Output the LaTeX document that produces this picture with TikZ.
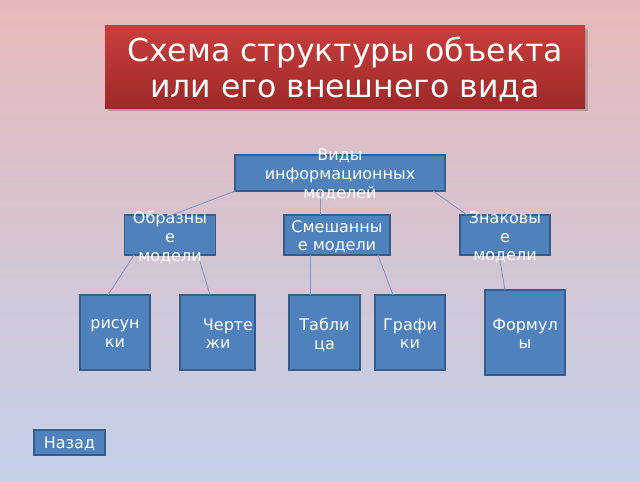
\documentclass[tikz,border=0pt]{standalone}
\usepackage{fontspec}
\setmainfont{DejaVu Sans}
\usetikzlibrary{calc}
\definecolor{bgtop}{RGB}{231,184,185}
\definecolor{bgbot}{RGB}{195,209,234}
\definecolor{ttop}{RGB}{201,62,60}
\definecolor{tbot}{RGB}{156,42,40}
\definecolor{boxfill}{RGB}{79,129,189}
\definecolor{boxline}{RGB}{56,93,138}
\definecolor{connc}{RGB}{122,150,196}
\tikzset{
  box/.style={draw=boxline, fill=boxfill, line width=1.2pt, inner sep=0pt, outer sep=0pt, rectangle},
  boxtext/.style={text=white, align=center, inner sep=0pt, font=\fontsize{16}{18.7}\selectfont,
    execute at begin node=\strut, execute at end node=\strut},
  conn/.style={draw=connc, line width=0.8pt},
}
\begin{document}
\begin{tikzpicture}[x=1pt,y=-1pt]
\useasboundingbox (0,0) rectangle (640,480);
\shade[top color=bgtop, bottom color=bgbot] (0,0) rectangle (640,480);
% title
\fill[black, opacity=0.18] (108,29) rectangle (588,111);
\node[rectangle, inner sep=0pt, outer sep=0pt, minimum width=480pt, minimum height=83pt, top color=ttop, bottom color=tbot] (title) at (345,66.5) {};
\node[text=white, align=center, inner sep=0pt, font=\fontsize{31.5}{36}\selectfont] (titleT) at ([yshift=-3pt]title.center) {Схема структуры объекта\\или его внешнего вида};
% boxes
\node[box, minimum width=210pt, minimum height=36pt] (root) at (340,173) {};
\node[box, minimum width=91pt, minimum height=40pt] (obr) at (170,235) {};
\node[box, minimum width=106pt, minimum height=40pt] (mix) at (337,235) {};
\node[box, minimum width=90pt, minimum height=40pt] (zn) at (505,235) {};
\node[box, minimum width=70pt, minimum height=75pt] (ris) at (115,332.5) {};
\node[box, minimum width=75pt, minimum height=75pt] (cher) at (217.5,332.5) {};
\node[box, minimum width=71pt, minimum height=75pt] (tab) at (324.5,332.5) {};
\node[box, minimum width=70pt, minimum height=75pt] (graf) at (410,332.5) {};
\node[box, minimum width=80pt, minimum height=85pt] (form) at (525,332.5) {};
\node[box, minimum width=71pt, minimum height=25pt] (back) at (69.5,442.5) {};
% connectors
\draw[conn] (root.south west) -- ([xshift=2pt]obr.north);
\draw[conn] ([xshift=-20pt]root.south) -- ([xshift=-17pt]mix.north);
\draw[conn] ([xshift=-12pt]root.south east) -- ([xshift=-38pt]zn.north);
\draw[conn] ([xshift=-36pt]obr.south) -- ([xshift=-7pt]ris.north);
\draw[conn] ([xshift=28pt]obr.south) -- ([xshift=-7.5pt]cher.north);
\draw[conn] ([xshift=-27pt]mix.south) -- ([xshift=-14.5pt]tab.north);
\draw[conn] ([xshift=41pt]mix.south) -- ([xshift=-17pt]graf.north);
\draw[conn] ([xshift=-6pt]zn.south) -- ([xshift=-20pt]form.north);
% texts
\node[boxtext] (rootT) at ([yshift=-3.5pt]root.center) {Виды\\информационных\\моделей};
\node[boxtext] (obrT) at ([yshift=-4pt]obr.center) {Образны\\е\\модели};
\node[boxtext] (mixT) at ([yshift=-3.5pt]mix.center) {Смешанны\\е модели};
\node[boxtext] (znT) at ([yshift=-4pt]zn.center) {Знаковы\\е\\модели};
\node[boxtext] (risT) at ([yshift=-4pt]ris.center) {рисун\\ки};
\node[boxtext] (cherT) at ([xshift=10.5pt,yshift=-4pt]cher.center) {Черте\\жи\hspace*{20pt}};
\node[boxtext] (tabT) at ([yshift=-4pt]tab.center) {Табли\\ца};
\node[boxtext] (grafT) at ([yshift=-4pt]graf.center) {Графи\\ки};
\node[boxtext] (formT) at ([yshift=-4pt]form.center) {Формул\\ы};
\node[boxtext] (backT) at ([yshift=-2.5pt]back.center) {Назад};
\end{tikzpicture}
\end{document}
